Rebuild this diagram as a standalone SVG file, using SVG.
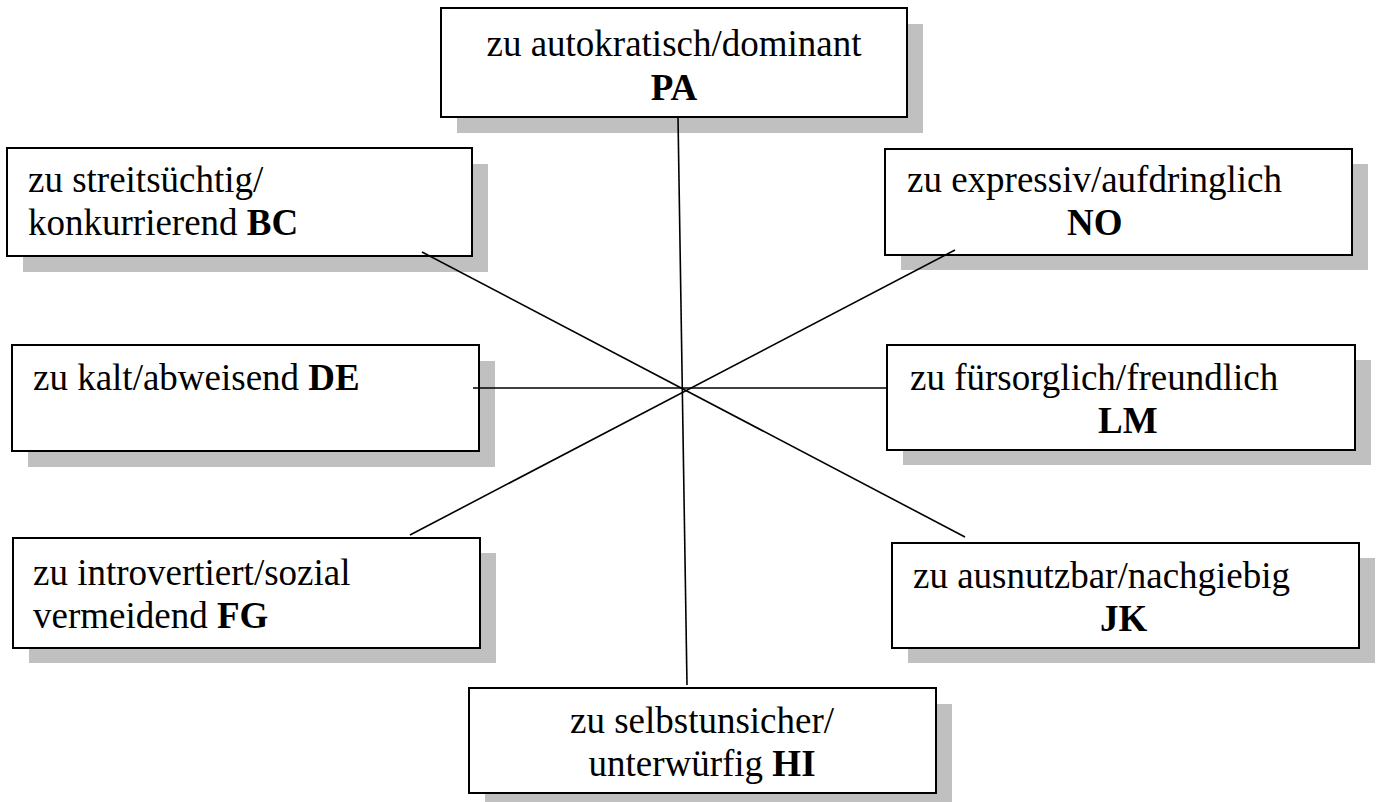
<svg xmlns="http://www.w3.org/2000/svg" width="1379" height="802" viewBox="0 0 1379 802">
<style>
.sh{fill:#c0c0c0;stroke:none}
.bx{fill:#fff;stroke:#000;stroke-width:2}
.t{font-family:"Liberation Serif","Times New Roman",serif;font-size:37px;fill:#000}
.b{font-weight:bold}
.c{text-anchor:middle}
.ln{stroke:#000;stroke-width:1.6;fill:none}
</style>
<rect width="1379" height="802" fill="#fff"/>
<g id="node-PA">
<rect class="sh" x="457" y="24" width="466" height="109"/>
<rect class="bx" x="441" y="8" width="466" height="109"/>
<text class="t c" x="674" y="56">zu autokratisch/dominant</text>
<text class="t c b" x="674" y="100">PA</text>
</g>
<g id="node-BC">
<rect class="sh" x="23" y="164" width="465" height="108"/>
<rect class="bx" x="7" y="148" width="465" height="108"/>
<text class="t" x="28" y="192">zu streitsüchtig/</text>
<text class="t" x="28" y="235">konkurrierend <tspan class="b">BC</tspan></text>
</g>
<g id="node-NO">
<rect class="sh" x="901" y="164" width="467" height="106"/>
<rect class="bx" x="885" y="149" width="467" height="106"/>
<text class="t" x="907" y="192">zu expressiv/aufdringlich</text>
<text class="t b" x="1067" y="235">NO</text>
</g>
<g id="node-DE">
<rect class="sh" x="28" y="361" width="467" height="106"/>
<rect class="bx" x="12" y="345" width="467" height="106"/>
<text class="t" x="33" y="390">zu kalt/abweisend <tspan class="b">DE</tspan></text>
</g>
<g id="node-LM">
<rect class="sh" x="903" y="360" width="468" height="105"/>
<rect class="bx" x="887" y="345" width="468" height="105"/>
<text class="t" x="910" y="390">zu fürsorglich/freundlich</text>
<text class="t b" x="1098" y="433">LM</text>
</g>
<g id="node-FG">
<rect class="sh" x="29" y="553" width="467" height="110"/>
<rect class="bx" x="13" y="538" width="467" height="110"/>
<text class="t" x="33" y="585">zu introvertiert/sozial</text>
<text class="t" x="33" y="628">vermeidend <tspan class="b">FG</tspan></text>
</g>
<g id="node-JK">
<rect class="sh" x="908" y="558" width="467" height="105"/>
<rect class="bx" x="892" y="543" width="467" height="105"/>
<text class="t" x="913" y="588">zu ausnutzbar/nachgiebig</text>
<text class="t b" x="1100" y="631">JK</text>
</g>
<g id="node-HI">
<rect class="sh" x="485" y="704" width="467" height="105"/>
<rect class="bx" x="469" y="688" width="467" height="105"/>
<text class="t c" x="702" y="733">zu selbstunsicher/</text>
<text class="t c" x="702" y="776">unterwürfig <tspan class="b">HI</tspan></text>
</g>
<g id="connectors">
<line class="ln" x1="678" y1="117" x2="687" y2="685"/>
<line class="ln" x1="422" y1="252" x2="965" y2="537"/>
<line class="ln" x1="473" y1="388" x2="887" y2="388"/>
<line class="ln" x1="955" y1="250" x2="410" y2="535"/>
</g>
</svg>
